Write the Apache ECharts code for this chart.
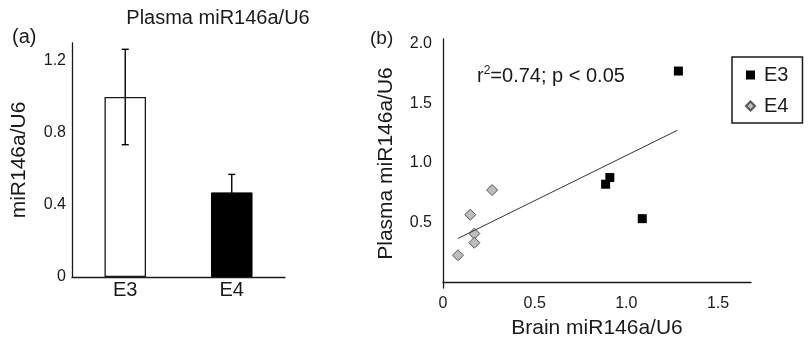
<!DOCTYPE html>
<html>
<head>
<meta charset="utf-8">
<script src="https://cdn.jsdelivr.net/npm/echarts@6/dist/echarts.min.js"></script>
<style>
  html, body { margin: 0; padding: 0; background: #fff; }
  #chart { width: 809px; height: 344px; }
</style>
</head>
<body>
<div id="chart"></div>
<script>
// Panel (a) data
const groups = ['E3', 'E4'];
const plasmaMean = [1.0, 0.47];
const plasmaErr = [0.265, 0.10];
const barTicks = [0, 0.4, 0.8, 1.2];

// Panel (b) data: [brain, plasma]
const e3Points = [[1.284, 1.771], [0.887, 0.821], [0.910, 0.877], [1.087, 0.532]];
const e4Points = [[0.268, 0.772], [0.149, 0.565], [0.171, 0.407], [0.171, 0.330], [0.082, 0.225]];
const fitLine = [[0.082, 0.366], [1.279, 1.274]];
const scatterXTicks = [0, 0.5, 1.0, 1.5];
const scatterYTicks = [0.5, 1.0, 1.5, 2.0];

const font = 'Liberation Sans, Arial, sans-serif';
const ink = '#1a1a1a';

const chart = echarts.init(document.getElementById('chart'));

const axisLine = { show: true, lineStyle: { color: ink, width: 1.3 } };

chart.setOption({
  backgroundColor: '#fff',
  animation: false,
  textStyle: { fontFamily: font },
  title: [
    { text: 'Plasma miR146a/U6', left: 213, top: 3, textAlign: 'center',
      textStyle: { fontSize: 20, fontWeight: 'normal', color: ink, fontFamily: font } },
    { text: '(a)', left: 7, top: 22,
      textStyle: { fontSize: 20, fontWeight: 'normal', color: ink, fontFamily: font } },
    { text: '(b)', left: 365, top: 24,
      textStyle: { fontSize: 19, fontWeight: 'normal', color: ink, fontFamily: font } },
    { text: 'r{sup|2}=0.74; p < 0.05', left: 472, top: 60,
      textStyle: { fontSize: 20, fontWeight: 'normal', color: ink, fontFamily: font,
        rich: { sup: { fontSize: 12, verticalAlign: 'top', padding: [0, 0, 10, 0], color: ink } } } }
  ],
  legend: {
    data: [
      { name: 'E3', icon: 'rect' },
      { name: 'E4', icon: 'diamond' }
    ],
    orient: 'vertical',
    left: 732, top: 57,
    padding: [8, 14, 7, 13],
    itemGap: 11,
    itemWidth: 9, itemHeight: 9,
    borderColor: ink, borderWidth: 1.5,
    textStyle: { fontSize: 20, color: ink, fontFamily: font, padding: [0, 0, 0, 4] }
  },
  grid: [
    { left: 72, right: 524, top: 43, bottom: 67 },
    { left: 443, right: 58, top: 39, bottom: 53 }
  ],
  xAxis: [
    {
      gridIndex: 0, type: 'category', data: groups,
      axisLine: axisLine, axisTick: { show: false },
      axisLabel: { fontSize: 20, color: ink, margin: 3 }
    },
    {
      gridIndex: 1, type: 'value', min: 0, max: 1.68,
      name: 'Brain miR146a/U6', nameLocation: 'middle', nameGap: 30,
      nameTextStyle: { fontSize: 21, color: ink },
      axisLine: axisLine, axisTick: { show: false }, splitLine: { show: false },
      axisLabel: { fontSize: 16, color: ink, margin: 8, customValues: scatterXTicks,
        formatter: v => v === 0 ? '0' : v.toFixed(1) }
    }
  ],
  yAxis: [
    {
      gridIndex: 0, type: 'value', min: 0, max: 1.3,
      name: 'miR146a/U6', nameLocation: 'middle', nameGap: 42,
      nameTextStyle: { fontSize: 21, color: ink },
      axisLine: axisLine, axisTick: { show: false }, splitLine: { show: false },
      axisLabel: { fontSize: 16, color: ink, margin: 6, customValues: barTicks,
        formatter: v => v === 0 ? '0' : v.toFixed(1) }
    },
    {
      gridIndex: 1, type: 'value', min: -0.05, max: 2.04,
      name: 'Plasma miR146a/U6', nameLocation: 'middle', nameGap: 46,
      nameTextStyle: { fontSize: 21, color: ink },
      axisLine: axisLine, axisTick: { show: false }, splitLine: { show: false },
      axisLabel: { fontSize: 16, color: ink, margin: 11, customValues: scatterYTicks,
        formatter: v => v.toFixed(1) }
    }
  ],
  series: [
    {
      type: 'bar', xAxisIndex: 0, yAxisIndex: 0,
      barWidth: '39%',
      data: plasmaMean.map((v, i) => ({
        value: v,
        itemStyle: i === 0
          ? { color: '#fff', borderColor: ink, borderWidth: 1.3 }
          : { color: '#000', borderColor: '#000', borderWidth: 1 }
      }))
    },
    {
      type: 'custom', xAxisIndex: 0, yAxisIndex: 0, z: 5,
      data: plasmaMean.map((v, i) => [i, v - plasmaErr[i], v + plasmaErr[i]]),
      renderItem: (params, api) => {
        const lo = api.coord([api.value(0), api.value(1)]);
        const hi = api.coord([api.value(0), api.value(2)]);
        const cap = 3.5;
        const style = { stroke: '#000', lineWidth: 1.4 };
        return {
          type: 'group',
          children: [
            { type: 'line', shape: { x1: hi[0], y1: hi[1], x2: lo[0], y2: lo[1] }, style },
            { type: 'line', shape: { x1: hi[0] - cap, y1: hi[1], x2: hi[0] + cap, y2: hi[1] }, style },
            { type: 'line', shape: { x1: lo[0] - cap, y1: lo[1], x2: lo[0] + cap, y2: lo[1] }, style }
          ]
        };
      }
    },
    {
      type: 'line', xAxisIndex: 1, yAxisIndex: 1,
      data: fitLine, symbol: 'none', silent: true,
      lineStyle: { color: '#333', width: 1 }
    },
    {
      name: 'E3', type: 'scatter', xAxisIndex: 1, yAxisIndex: 1,
      symbol: 'rect', symbolSize: 9, data: e3Points,
      itemStyle: { color: '#000', opacity: 1 }
    },
    {
      name: 'E4', type: 'scatter', xAxisIndex: 1, yAxisIndex: 1,
      symbol: 'diamond', symbolSize: 11, data: e4Points,
      itemStyle: { color: '#bdbdbd', borderColor: '#555', borderWidth: 1, opacity: 1 }
    }
  ]
});
</script>
</body>
</html>
